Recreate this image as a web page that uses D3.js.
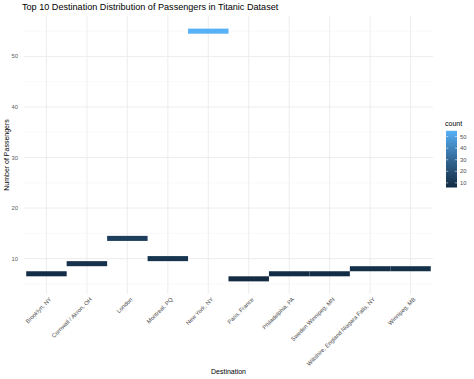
<!DOCTYPE html>
<html><head><meta charset="utf-8">
<script src="https://cdn.jsdelivr.net/npm/d3@7"></script>
<style>body{margin:0;background:#fff}svg{display:block;font-family:"Liberation Sans",Arial,sans-serif}</style>
</head><body><svg id="c" width="474" height="379"></svg>
<script>
const destinations = ["Brooklyn, NY","Cornwall / Akron, OH","London","Montreal, PQ","New York, NY","Paris, France","Philadelphia, PA","Sweden Winnipeg, MN","Wiltshire, England Niagara Falls, NY","Winnipeg, MB"];
const counts = [7, 9, 14, 10, 55, 6, 7, 7, 8, 8];
const yTicks = [10, 20, 30, 40, 50];
const yMinor = [5, 15, 25, 35, 45, 55];
const legendTicks = [10, 20, 30, 40, 50];

const svg = d3.select("#c");
const L = 24, R = 433, T = 16, B = 294;
const x = d3.scalePoint().domain(destinations).range([L, R]).padding(0.555);
const y = d3.scaleLinear().domain([3, 58]).range([B, T]);
const col = d3.scaleLinear().domain([d3.min(counts), d3.max(counts)]).range(["#132B43", "#56B1F7"]).interpolate(d3.interpolateLab);

// grid
const g = svg.append("g");
g.selectAll(".ymin").data(yMinor).join("line").attr("x1", L).attr("x2", R)
 .attr("y1", d => y(d)).attr("y2", d => y(d)).attr("stroke", "#F2F2F2").attr("stroke-width", 0.5);
g.selectAll(".ymaj").data(yTicks).join("line").attr("x1", L).attr("x2", R)
 .attr("y1", d => y(d)).attr("y2", d => y(d)).attr("stroke", "#EBEBEB").attr("stroke-width", 0.9);
g.selectAll(".xmaj").data(destinations).join("line").attr("y1", T).attr("y2", B)
 .attr("x1", d => x(d)).attr("x2", d => x(d)).attr("stroke", "#EBEBEB").attr("stroke-width", 0.9);

// tiles
const step = x.step();
svg.append("g").selectAll("rect").data(destinations).join("rect")
 .attr("x", d => x(d) - step / 2).attr("width", step)
 .attr("y", (d, i) => y(counts[i] + 0.5)).attr("height", (d, i) => y(counts[i] - 0.5) - y(counts[i] + 0.5))
 .attr("fill", (d, i) => col(counts[i]));

// y axis labels
svg.append("g").selectAll("text").data(yTicks).join("text")
 .attr("x", 18).attr("y", d => y(d)).attr("dy", "0.35em").attr("text-anchor", "end")
 .attr("font-size", 5.8).attr("fill", "#5a5a5a").text(d => d);

// x axis labels
svg.append("g").selectAll("text").data(destinations).join("text")
 .attr("transform", d => `translate(${x(d) + 2.5},${B + 3}) rotate(-45)`)
 .attr("text-anchor", "end").attr("dy", "0.7em")
 .attr("font-size", 5.8).attr("fill", "#4D4D4D").text(d => d);

// titles
svg.append("text").attr("x", 22).attr("y", 10).attr("font-size", 9.1).attr("fill", "#000")
 .text("Top 10 Destination Distribution of Passengers in Titanic Dataset");
svg.append("text").attr("x", (L + R) / 2).attr("y", 374).attr("text-anchor", "middle")
 .attr("font-size", 7).attr("fill", "#000").text("Destination");
svg.append("text").attr("transform", `translate(9,${(T + B) / 2}) rotate(-90)`).attr("text-anchor", "middle")
 .attr("font-size", 7).attr("fill", "#000").text("Number of Passengers");

// legend
const lg = svg.append("g");
const lx = 446, lw = 11;
const ly = d3.scaleLinear().domain([d3.min(counts), d3.max(counts)]).range([187.5, 130.8]);
const defs = svg.append("defs");
const grad = defs.append("linearGradient").attr("id", "gr").attr("x1", 0).attr("x2", 0).attr("y1", 1).attr("y2", 0);
d3.range(0, 1.0001, 0.1).forEach(t => grad.append("stop").attr("offset", t)
 .attr("stop-color", col(d3.min(counts) + t * (d3.max(counts) - d3.min(counts)))));
lg.append("rect").attr("x", lx).attr("y", ly(d3.max(counts))).attr("width", lw)
 .attr("height", ly(d3.min(counts)) - ly(d3.max(counts))).attr("fill", "url(#gr)");
lg.selectAll(".tk").data(legendTicks).join("g").each(function(d) {
  const s = d3.select(this);
  s.append("line").attr("x1", lx).attr("x2", lx + 2.2).attr("y1", ly(d)).attr("y2", ly(d)).attr("stroke", "#fff").attr("stroke-width", 0.5);
  s.append("line").attr("x1", lx + lw - 2.2).attr("x2", lx + lw).attr("y1", ly(d)).attr("y2", ly(d)).attr("stroke", "#fff").attr("stroke-width", 0.5);
  s.append("text").attr("x", lx + lw + 3).attr("y", ly(d)).attr("dy", "0.35em")
   .attr("font-size", 5.8).attr("fill", "#4D4D4D").text(d);
});
lg.append("text").attr("x", lx - 1).attr("y", 126).attr("font-size", 7).attr("fill", "#000").text("count");
</script></body></html>
